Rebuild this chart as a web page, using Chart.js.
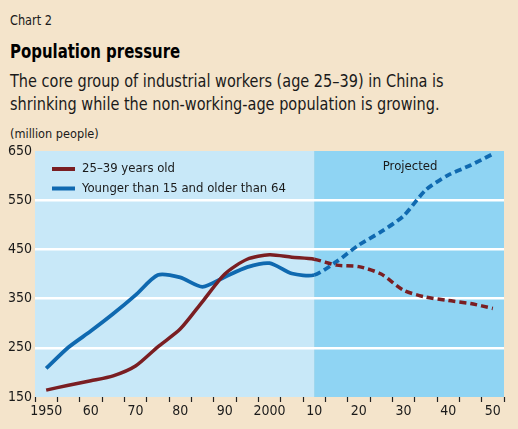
<!DOCTYPE html>
<html>
<head>
<meta charset="utf-8">
<script src="https://cdn.jsdelivr.net/npm/chart.js@4"></script>
<style>
  html, body { margin: 0; padding: 0; background: #f4e4cb; }
  body { width: 518px; height: 429px; position: relative; overflow: hidden;
         font-family: 'DejaVu Sans Condensed', 'Liberation Sans Narrow', sans-serif; color: #1a1a1a; }
  .txt { position: absolute; left: 10px; white-space: nowrap; line-height: 1; transform-origin: 0 0; }
  #num { top: 13px; font-size: 14px; transform: scaleX(0.9); }
  #titre { top: 41px; font-size: 20px; font-weight: bold; color: #000; transform: scaleX(0.83); }
  #l1 { top: 72px; font-size: 18px; transform: scaleX(0.895); }
  #l2 { top: 95px; font-size: 18px; transform: scaleX(0.895); }
  #unite { top: 127px; font-size: 13px; transform: scaleX(0.97); }
  #zone { position: absolute; left: 0; top: 0; width: 518px; height: 429px; }
</style>
</head>
<body>
<div class="txt" id="num">Chart 2</div>
<div class="txt" id="titre">Population pressure</div>
<div class="txt" id="l1">The core group of industrial workers (age 25–39) in China is</div>
<div class="txt" id="l2">shrinking while the non-working-age population is growing.</div>
<div class="txt" id="unite">(million people)</div>
<div id="zone"><canvas id="graphique"></canvas></div>
<script>
const annees = [1950, 1955, 1960, 1965, 1970, 1975, 1980, 1985, 1990, 1995, 2000,
                2005, 2010, 2015, 2020, 2025, 2030, 2035, 2040, 2045, 2050];
const travailleurs = [164, 174, 183, 193, 213, 252, 288, 344, 400, 430, 439,
                      434, 430, 418, 415, 400, 367, 353, 346, 340, 330];
const inactifs = [208, 251, 284, 319, 357, 398, 393, 374, 394, 414, 422,
                  401, 398, 425, 459, 486, 518, 571, 601, 621, 644];
const debutProjection = 2010;
const etiquettesX = { 1950: '1950', 1960: '60', 1970: '70', 1980: '80', 1990: '90', 2000: '2000',
                      2010: '10', 2020: '20', 2030: '30', 2040: '40', 2050: '50' };
const ticksY = [150, 250, 350, 450, 550, 650];

const police = "'DejaVu Sans Condensed', 'Liberation Sans Narrow', sans-serif";
const rouge = '#7a1e22';
const bleu = '#0f69b0';

function serie(valeurs) {
    return annees.map((a, i) => ({ x: a, y: valeurs[i] }));
}

// pointillés pour la partie projetée
const pointilles = ctx => ctx.p0.parsed.x >= debutProjection ? [7, 4] : undefined;

const fonds = {
    id: 'fonds',
    beforeDraw(chart) {
        const { ctx, chartArea: a, scales } = chart;
        const xp = scales.x.getPixelForValue(debutProjection);
        ctx.save();
        ctx.fillStyle = '#c8e8f8';
        ctx.fillRect(a.left, a.top, xp - a.left, a.bottom - a.top);
        ctx.fillStyle = '#8fd4f3';
        ctx.fillRect(xp, a.top, a.right - xp, a.bottom - a.top);
        ctx.restore();
    }
};

const legende = {
    id: 'legende',
    afterDraw(chart) {
        const { ctx, chartArea: a, scales } = chart;
        ctx.save();
        ctx.font = '13px ' + police;
        ctx.textBaseline = 'middle';
        ctx.fillStyle = '#1a1a1a';
        chart.data.datasets.forEach((ds, i) => {
            const y = a.top + 18 + i * 19.5;
            ctx.strokeStyle = ds.borderColor;
            ctx.lineWidth = 4;
            ctx.beginPath();
            ctx.moveTo(a.left + 17, y);
            ctx.lineTo(a.left + 40, y);
            ctx.stroke();
            ctx.fillText(ds.label, a.left + 47, y);
        });
        const xp = scales.x.getPixelForValue(debutProjection);
        ctx.textAlign = 'center';
        ctx.fillText('Projected', (xp + a.right) / 2 + 1, a.top + 16);
        ctx.restore();
    }
};

new Chart(document.getElementById('graphique'), {
    type: 'line',
    data: {
        datasets: [{
            label: '25–39 years old',
            data: serie(travailleurs),
            borderColor: rouge,
            borderWidth: 3.5,
            segment: { borderDash: pointilles },
        }, {
            label: 'Younger than 15 and older than 64',
            data: serie(inactifs),
            borderColor: bleu,
            borderWidth: 3.8,
            segment: { borderDash: pointilles },
        }],
    },
    plugins: [fonds, legende],
    options: {
        responsive: true,
        maintainAspectRatio: false,
        animation: false,
        layout: { padding: { top: 151, right: 14, left: 0, bottom: 0 } },
        elements: {
            point: { radius: 0 },
            line: { tension: 0.25, borderCapStyle: 'butt', borderJoinStyle: 'round' },
        },
        plugins: { legend: { display: false }, tooltip: { enabled: false } },
        scales: {
            x: {
                type: 'linear',
                min: 1947.5,
                max: 2052.5,
                afterBuildTicks: axe => {
                    const t = [];
                    for (let v = 1947.5; v <= 2052.5; v += 2.5) t.push({ value: v });
                    axe.ticks = t;
                },
                afterFit: axe => { axe.height = 32; },
                border: { display: false },
                grid: {
                    drawOnChartArea: false,
                    tickLength: 5,
                    tickWidth: 1.2,
                    tickColor: ctx => ctx.tick && Math.abs(ctx.tick.value % 5 - 2.5) < 0.01 ? '#222' : 'rgba(0,0,0,0)',
                },
                ticks: {
                    autoSkip: false,
                    maxRotation: 0,
                    padding: 1,
                    color: '#1a1a1a',
                    font: { family: police, size: 14 },
                    callback: v => etiquettesX[v] || '',
                },
            },
            y: {
                min: 150,
                max: 650,
                afterBuildTicks: axe => { axe.ticks = ticksY.map(v => ({ value: v })); },
                afterFit: axe => { axe.width = 35; },
                border: { display: false },
                grid: {
                    drawTicks: false,
                    lineWidth: 2.5,
                    color: ctx => ctx.tick && (ctx.tick.value === 150 || ctx.tick.value === 650) ? 'rgba(0,0,0,0)' : '#ffffff',
                },
                ticks: {
                    padding: 3,
                    color: '#1a1a1a',
                    font: { family: police, size: 14 },
                },
            },
        },
    },
});
</script>
</body>
</html>
